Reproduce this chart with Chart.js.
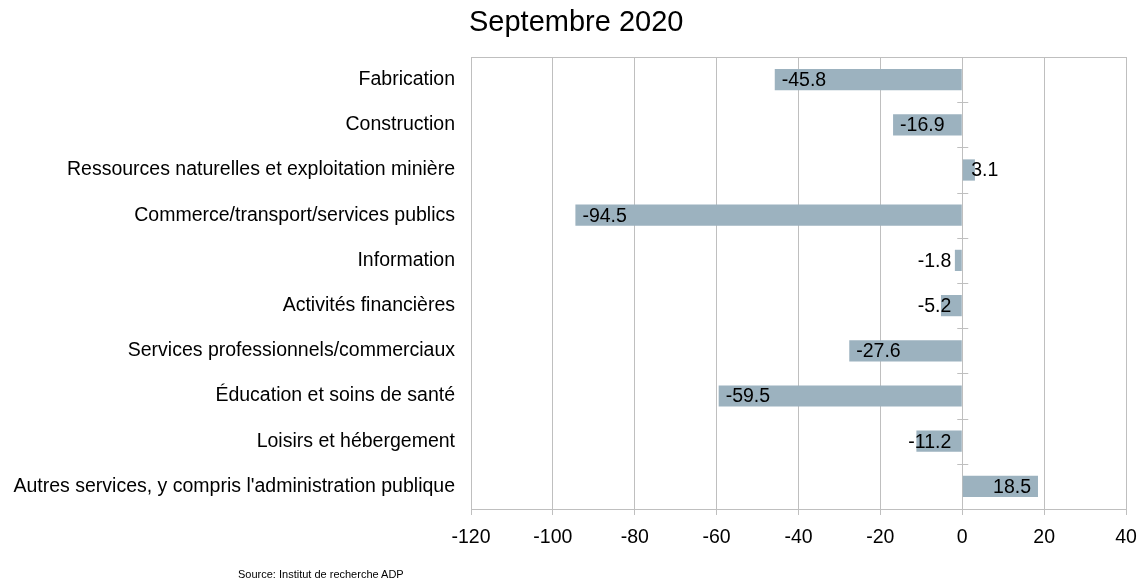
<!DOCTYPE html>
<html>
<head>
<meta charset="utf-8">
<script src="https://cdn.jsdelivr.net/npm/chart.js@4.4.1/dist/chart.umd.min.js"></script>
<style>
  html, body { margin: 0; padding: 0; background: #fff; }
  #wrap { position: relative; width: 1139px; height: 584px; }
  #title { position: absolute; left: 469px; top: 7px; font: 29px/1 "Liberation Sans", Arial, sans-serif; color: #000; white-space: nowrap; }
  #source { position: absolute; left: 238px; top: 569px; font: 11px/1 "Liberation Sans", Arial, sans-serif; color: #000; white-space: nowrap; }
  canvas { position: absolute; left: 0; top: 0; }
</style>
</head>
<body>
<div id="wrap">
  <canvas id="c" width="1139" height="584"></canvas>
  <div id="title">Septembre 2020</div>
  <div id="source">Source: Institut de recherche ADP</div>
</div>
<script>
const categories = [
  "Fabrication",
  "Construction",
  "Ressources naturelles et exploitation minière",
  "Commerce/transport/services publics",
  "Information",
  "Activités financières",
  "Services professionnels/commerciaux",
  "Éducation et soins de santé",
  "Loisirs et hébergement",
  "Autres services, y compris l'administration publique"
];
const values = [-45.8, -16.9, 3.1, -94.5, -1.8, -5.2, -27.6, -59.5, -11.2, 18.5];
const xMin = -120;
const xMax = 40;
const xStep = 20;

const FONT = '"Liberation Sans", Arial, sans-serif';
const GRID = '#bfbfbf';
const FS = 19.5;

const framePlugin = {
  id: 'frame',
  beforeDatasetsDraw(chart) {
    const { ctx, chartArea: a, scales } = chart;
    ctx.save();
    ctx.strokeStyle = GRID;
    ctx.lineWidth = 1;
    ctx.beginPath();
    ctx.moveTo(a.left, Math.round(a.top) + 0.5);
    ctx.lineTo(a.right, Math.round(a.top) + 0.5);
    ctx.stroke();
    const x0 = scales.x.getPixelForValue(0);
    const ys = scales.y;
    for (let i = 1; i < categories.length; i++) {
      const y = (ys.getPixelForValue(i - 1) + ys.getPixelForValue(i)) / 2;
      ctx.beginPath();
      ctx.moveTo(x0 - 5, Math.round(y) + 0.5);
      ctx.lineTo(x0 + 6, Math.round(y) + 0.5);
      ctx.stroke();
    }
    ctx.restore();
  }
};

const labelPlugin = {
  id: 'barLabels',
  afterDatasetsDraw(chart) {
    const { ctx, scales } = chart;
    const meta = chart.getDatasetMeta(0);
    const x0 = scales.x.getPixelForValue(0);
    ctx.save();
    ctx.font = FS + 'px ' + FONT;
    ctx.fillStyle = '#000';
    ctx.textBaseline = 'middle';
    ctx.textAlign = 'left';
    meta.data.forEach((bar, i) => {
      const v = values[i];
      const txt = String(v);
      const w = ctx.measureText(txt).width;
      let left;
      if (v < 0) {
        left = bar.x + 7;
        if (left + w > x0 - 11) left = x0 - 11 - w;
      } else {
        left = bar.x - 7 - w;
        if (left < x0 + 9) left = x0 + 9;
      }
      ctx.fillText(txt, left, bar.y + 1);
    });
    ctx.restore();
  }
};

new Chart(document.getElementById('c'), {
  type: 'bar',
  data: {
    labels: categories,
    datasets: [{
      data: values,
      backgroundColor: '#9cb2bf',
      borderWidth: 0,
      barPercentage: 0.47,
      categoryPercentage: 1.0
    }]
  },
  options: {
    indexAxis: 'y',
    responsive: false,
    animation: false,
    layout: { padding: { top: 57, right: 13, bottom: 0, left: 0 } },
    plugins: { legend: { display: false }, tooltip: { enabled: false }, title: { display: false } },
    scales: {
      x: {
        min: xMin,
        max: xMax,
        ticks: { stepSize: xStep, color: '#000', font: { family: FONT, size: FS }, padding: 11 },
        grid: { color: GRID, lineWidth: 1, tickLength: 6, drawTicks: true },
        border: { display: true, color: GRID },
        afterFit(s) { s.height = 75; s.paddingRight = 0; s.paddingLeft = 0; }
      },
      y: {
        ticks: { color: '#000', font: { family: FONT, size: FS }, padding: 8 },
        grid: { display: false },
        border: { display: true, color: GRID },
        afterFit(s) { s.width = 471; }
      }
    }
  },
  plugins: [framePlugin, labelPlugin]
});
</script>
</body>
</html>
